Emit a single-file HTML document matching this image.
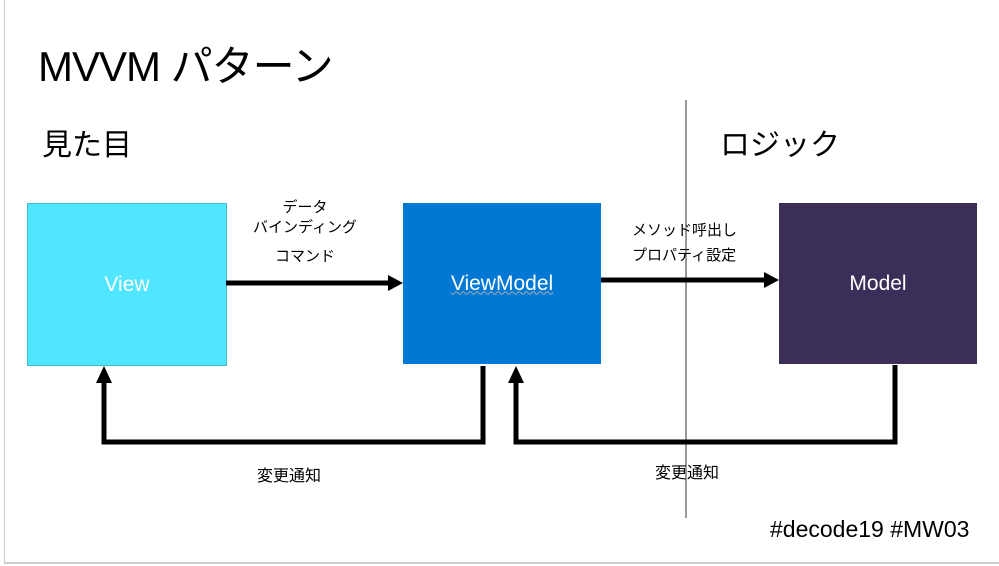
<!DOCTYPE html><html><head><meta charset="utf-8"><style>
body{margin:0;width:999px;height:566px;background:#fff;position:relative;overflow:hidden;font-family:"Liberation Sans","Noto Sans CJK JP",sans-serif}
.t{position:absolute;white-space:nowrap}
.b{position:absolute;top:203px;width:198px;height:161px;color:#fff;font-size:21px;display:flex;align-items:center;justify-content:center}
</style></head><body>
<div style="position:absolute;left:4px;top:0;width:994px;height:562px;border-left:1px solid #ccc;border-bottom:2px solid #ccc"></div>
<div class="t" style="left:38px;top:33px;font-size:42px;letter-spacing:-1px;color:#000">MVVM パターン</div>
<div class="t" style="left:42px;top:120px;font-size:30px">見た目</div>
<div class="t" style="left:720px;top:120px;font-size:30px">ロジック</div>
<div class="b" style="left:27px;background:#50e6ff;border:1px solid #4bc">View</div>
<div class="b" style="left:403px;background:#0078d4"><span style="text-decoration:underline wavy #aaa 1px">ViewModel</span></div>
<div class="b" style="left:779px;background:#3b2e58">Model</div>
<div class="t" style="left:250px;top:198px;width:110px;text-align:center;font-size:15px;line-height:20px">データ<br>バインディング</div>
<div class="t" style="left:250px;top:245px;width:110px;text-align:center;font-size:15px">コマンド</div>
<div class="t" style="left:632px;top:218px;font-size:15px;line-height:25px">メソッド呼出し<br>プロパティ設定</div>
<div class="t" style="left:257px;top:462px;font-size:16px">変更通知</div>
<div class="t" style="left:655px;top:459px;font-size:16px">変更通知</div>
<div class="t" style="left:770px;top:516px;font-size:23px">#decode19 #MW03</div>
<svg width="999" height="566" style="position:absolute;left:0;top:0">
<line x1="686" y1="100" x2="686" y2="518" stroke="#333" stroke-width="1"/>
<g stroke="#000" stroke-width="5" fill="none">
<line x1="226" y1="283" x2="390" y2="283"/>
<line x1="601" y1="280" x2="766" y2="280"/>
<polyline points="483,366 483,442 104,442 104,382"/>
<polyline points="895,365 895,442 516,442 516,382"/>
</g>
<g fill="#000">
<polygon points="403,283 388,275 388,291"/>
<polygon points="779,280 764,272 764,288"/>
<polygon points="104,366 96,383 112,383"/>
<polygon points="516,366 508,383 524,383"/>
</g>
</svg>
</body></html>
